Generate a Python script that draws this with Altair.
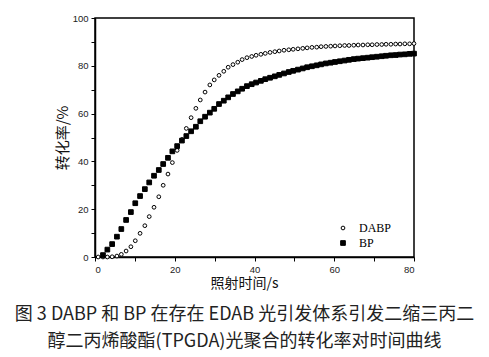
import altair as alt
import pandas as pd

times = [0.8, 2.0, 3.1, 4.3, 5.5, 6.6, 7.8, 9.0, 10.1, 11.3, 12.5, 13.6, 14.8, 16.0, 17.1,
         18.3, 19.4, 20.6, 21.8, 22.9, 24.1, 25.3, 26.4, 27.6, 28.8, 29.9, 31.1, 32.3, 33.4,
         34.6, 35.8, 36.9, 38.1, 39.3, 40.4, 41.6, 42.7, 43.9, 45.1, 46.2, 47.4, 48.6, 49.7,
         50.9, 52.1, 53.2, 54.4, 55.6, 56.7, 57.9, 59.1, 60.2, 61.4, 62.6, 63.7, 64.9, 66.0,
         67.2, 68.4, 69.5, 70.7, 71.9, 73.0, 74.2, 75.4, 76.5, 77.7, 78.9, 80.0]

dabp = [0.0, 0.0, 0.0, 0.1, 0.4, 1.1, 2.5, 4.3, 6.8, 9.9, 13.1, 16.9, 20.8, 25.2, 30.0,
        34.7, 39.5, 44.6, 49.2, 53.8, 58.3, 62.2, 65.7, 69.0, 72.0, 74.1, 76.0, 77.7, 79.4,
        80.5, 81.5, 82.6, 83.4, 83.9, 84.4, 84.8, 85.2, 85.6, 85.9, 86.2, 86.5, 86.7, 86.9,
        87.1, 87.3, 87.5, 87.7, 87.8, 88.0, 88.1, 88.2, 88.3, 88.4, 88.5, 88.5, 88.6, 88.7,
        88.7, 88.8, 88.8, 88.9, 88.9, 89.0, 89.0, 89.1, 89.1, 89.2, 89.2, 89.3]

bp = [None, 0.8, 3.1, 5.4, 8.5, 11.7, 15.5, 18.8, 22.5, 25.5, 28.4, 31.2, 34.0, 36.4, 38.9,
      41.5, 44.2, 46.4, 48.7, 50.6, 52.6, 54.5, 56.8, 58.7, 60.4, 62.0, 64.0, 65.4, 66.8,
      68.2, 69.3, 70.4, 71.5, 72.3, 73.0, 73.7, 74.4, 75.0, 75.6, 76.2, 76.8, 77.4, 77.9,
      78.4, 78.9, 79.4, 79.8, 80.2, 80.6, 81.0, 81.3, 81.6, 81.9, 82.2, 82.5, 82.8, 83.0,
      83.2, 83.4, 83.6, 83.8, 84.0, 84.2, 84.4, 84.5, 84.7, 84.8, 85.0, 85.1]

series_names = ["DABP", "BP"]
x_ticks = [0, 10, 20, 30, 40, 50, 60, 70, 80]
y_ticks = [0, 10, 20, 30, 40, 50, 60, 70, 80, 90, 100]

caption = ["图 3 DABP 和 BP 在存在 EDAB 光引发体系引发二缩三丙二",
           "醇二丙烯酸酯(TPGDA)光聚合的转化率对时间曲线"]

rows = []
for t, a, b in zip(times, dabp, bp):
    if a is not None:
        rows.append({"t": t, "v": a, "s": "DABP"})
    if b is not None:
        rows.append({"t": t, "v": b, "s": "BP"})
df = pd.DataFrame(rows)

tick_font = "Liberation Sans"
cjk = "Noto Sans CJK SC"

leg = alt.Legend(title=None)

chart = alt.Chart(df).mark_point(filled=True, strokeWidth=1, opacity=1).encode(
    x=alt.X("t:Q", scale=alt.Scale(domain=[0, 80], nice=False),
            axis=alt.Axis(values=x_ticks, title="照射时间/s", titleX=149, titleFontSize=14,
                          labelExpr="datum.value % 20 == 0 ? datum.label : ''")),
    y=alt.Y("v:Q", scale=alt.Scale(domain=[0, 100], nice=False),
            axis=alt.Axis(values=y_ticks, title="转化率/%",
                          labelExpr="datum.value % 20 == 0 ? datum.label : ''")),
    shape=alt.Shape("s:N", scale=alt.Scale(domain=series_names, range=["circle", "square"]),
                    legend=leg),
    fill=alt.Fill("s:N", scale=alt.Scale(domain=series_names, range=["white", "black"]),
                  legend=leg),
    stroke=alt.Stroke("s:N", scale=alt.Scale(domain=series_names, range=["black", "black"]),
                      legend=leg),
    size=alt.Size("s:N", scale=alt.Scale(domain=series_names, range=[14, 22]),
                  legend=leg),
).properties(
    width=319, height=239,
    title=alt.TitleParams(text=caption, orient="bottom", anchor="middle", fontSize=18,
                          font=cjk, fontWeight="normal", color="#222222", lineHeight=27,
                          offset=15, dx=-10),
    autosize=alt.AutoSizeParams(type="none"),
    padding={"left": 95, "top": 18, "right": 75, "bottom": 100},
).configure_view(
    stroke="black", strokeWidth=1.5
).configure_axis(
    domainColor="black", domainWidth=1.5, tickColor="black", tickSize=4, tickWidth=1,
    grid=False, labelFont=tick_font, labelFontSize=9.5, labelColor="#222222",
    titleFont=cjk, titleFontSize=15, titleFontWeight="normal", titleColor="#111111",
    labelPadding=3,
).configure_axisY(
    titlePadding=2
).configure_axisX(
    titlePadding=3
).configure_legend(
    orient="none", legendX=242, legendY=204, labelFont="Liberation Serif",
    labelFontSize=12, labelColor="black", rowPadding=3, labelOffset=10,
    symbolStrokeWidth=1
)

chart.save("out.html", embed_options={"renderer": "svg", "actions": False})
